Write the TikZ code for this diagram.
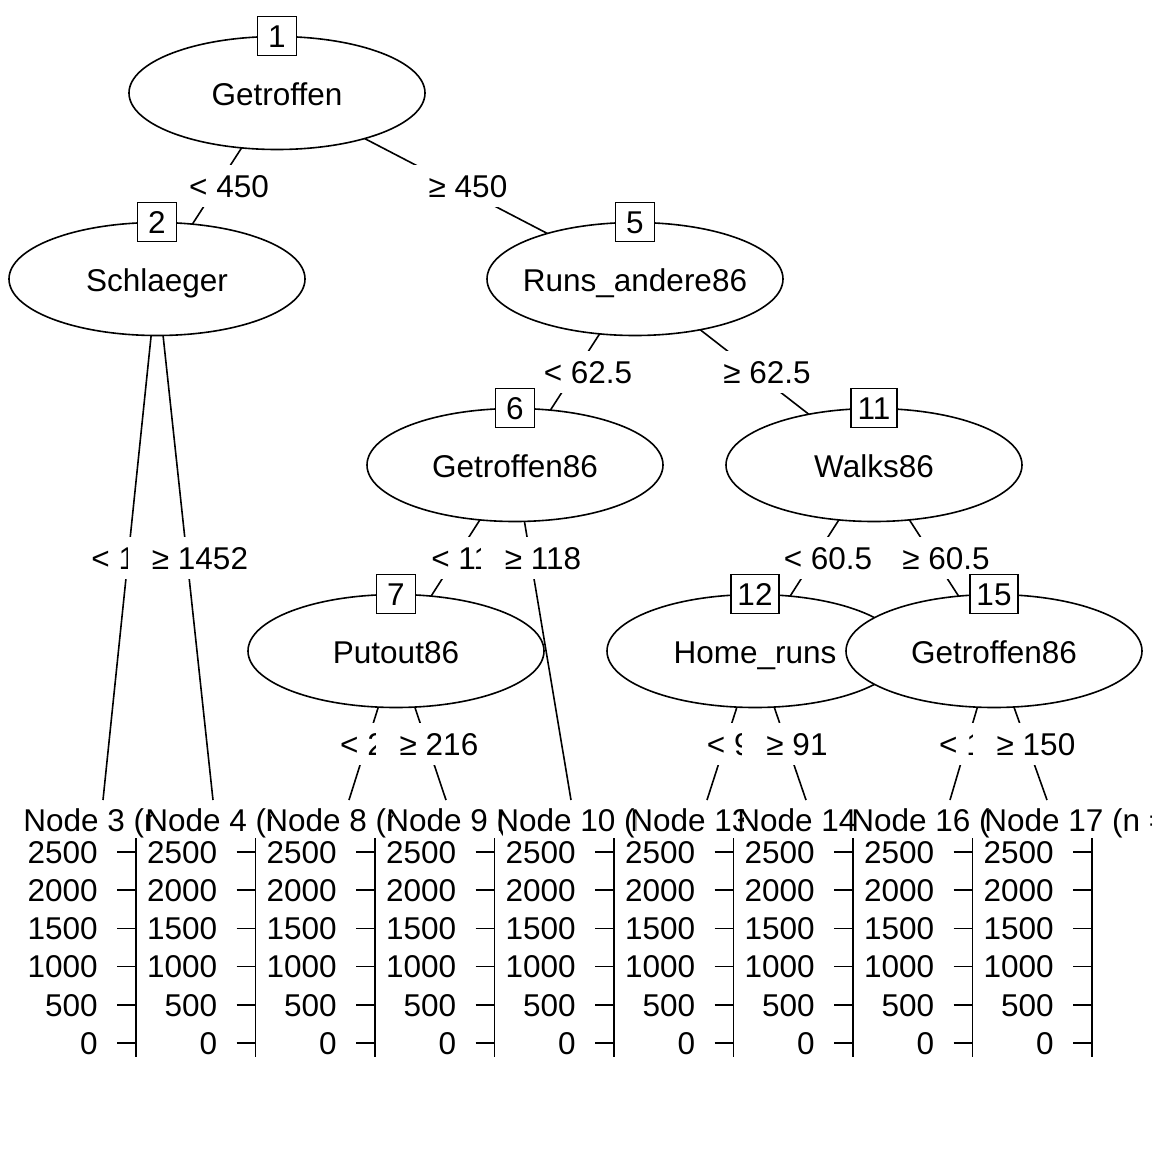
\documentclass[tikz,border=0pt]{standalone}
\usepackage{fontspec}
\setmainfont{Liberation Sans}
\usetikzlibrary{shapes.geometric}
\newcommand{\termpanel}[5]{%
  % #1 id, #2 title box x, #3 clip right x, #4 axis x, #5 title text
  \begin{scope}
    \clip (0,780) rectangle (#3,850);
    \node[ttl] (ttl#1) at (#2,831) {#5};
  \end{scope}
  \draw (#4,838) -- (#4,1057);
  \foreach \v/\yy in {2500/852,2000/890.2,1500/928.4,1000/966.6,500/1004.8,0/1043}{
    \draw ({#4-19},\yy) -- (#4,\yy);
    \node[ticklab] (tl#1-\v) at ({#4-37.5},\yy) {\v};
  }%
}
\begin{document}
\begin{tikzpicture}[x=1pt,y=-1pt,line width=1.6pt,
  font=\fontsize{31.5}{38}\selectfont,
  splitnode/.style={ellipse,draw,fill=white,minimum width=296pt,minimum height=113pt,inner sep=0pt,text height=25pt,text depth=0pt},
  idbox/.style={draw,fill=white,minimum width=39pt,minimum height=39pt,inner xsep=6.5pt,inner ysep=0pt,text height=22.5pt,text depth=0pt},
  elab/.style={fill=white,inner xsep=24pt,inner ysep=0pt,minimum height=42pt,text height=22.5pt,text depth=0pt},
  ttl/.style={inner sep=0pt,anchor=base west},
  ticklab/.style={inner sep=0pt,anchor=east,text height=22.5pt,text depth=0pt}]
\useasboundingbox[fill=white] (0,0) rectangle (1152,1152);

% positions
\coordinate (p1) at (277,93);
\coordinate (p2) at (157,279);
\coordinate (p5) at (635,279);
\coordinate (p6) at (515,465);
\coordinate (p11) at (874,465);
\coordinate (p7) at (396,651);
\coordinate (p12) at (755,651);
\coordinate (p15) at (994,651);
\coordinate (t3) at (103,800);
\coordinate (t4) at (213,800);
\coordinate (t8) at (349,800);
\coordinate (t9) at (446,800);
\coordinate (t10) at (571,800);
\coordinate (t13) at (707,800);
\coordinate (t14) at (806,800);
\coordinate (t16) at (950,800);
\coordinate (t17) at (1047,800);

% connectors
\draw (p1) -- (p2);
\draw (p1) -- (p5);
\draw (p2) -- (t3);
\draw (p2) -- (t4);
\draw (p5) -- (p6);
\draw (p5) -- (p11);
\draw (p6) -- (p7);
\draw (p6) -- (t10);
\draw (p7) -- (t8);
\draw (p7) -- (t9);
\draw (p11) -- (p12);
\draw (p11) -- (p15);
\draw (p12) -- (t13);
\draw (p12) -- (t14);
\draw (p15) -- (t16);
\draw (p15) -- (t17);

% node 1
\node[splitnode] (n1) at (p1) {\makebox[0pt]{Getroffen}};
\node[idbox] (id1) at (277,36) {1};
\node[elab] (e2) at (229,186) {< 450};
% node 2
\node[splitnode] (n2) at (p2) {\makebox[0pt]{Schlaeger}};
\node[idbox] (id2) at (157,222) {2};
\node[elab] (e3) at (140,558) {< 1452};
\termpanel{3}{22.6}{151}{136}{Node 3 (n =}
\node[elab] (e4) at (200,558) {≥ 1452};
\termpanel{4}{144.6}{271}{255.5}{Node 4 (n =}
\node[elab] (e5) at (468,186) {≥ 450};
% node 5
\node[splitnode] (n5) at (p5) {\makebox[0pt]{Runs\_andere86}};
\node[idbox] (id5) at (635,222) {5};
\node[elab] (e6) at (588,372) {< 62.5};
% node 6
\node[splitnode] (n6) at (p6) {\makebox[0pt]{Getroffen86}};
\node[idbox] (id6) at (515,408) {6};
\node[elab] (e7) at (470,558) {< 118};
% node 7
\node[splitnode] (n7) at (p7) {\makebox[0pt]{Putout86}};
\node[idbox] (id7) at (396,594) {7};
\node[elab] (e8) at (380,744) {< 216};
\termpanel{8}{264.6}{392}{375}{Node 8 (n =}
\node[elab] (e9) at (439,744) {≥ 216};
\termpanel{9}{385.6}{502}{494.5}{Node 9 (n =}
\node[elab] (e10) at (543,558) {≥ 118};
\termpanel{10}{495.6}{636}{614}{Node 10 (n =}
\node[elab] (e11) at (767,372) {≥ 62.5};
% node 11
\node[splitnode] (n11) at (p11) {\makebox[0pt]{Walks86}};
\node[idbox] (id11) at (874,408) {11};
\node[elab] (e12) at (828,558) {< 60.5};
% node 12
\node[splitnode] (n12) at (p12) {\makebox[0pt]{Home\_runs}};
\node[idbox] (id12) at (755,594) {12};
\node[elab] (e13) at (738,744) {< 91};
\termpanel{13}{629.6}{743}{733.5}{Node 13 (n =}
\node[elab] (e14) at (797,744) {≥ 91};
\termpanel{14}{736.6}{857}{853}{Node 14 (n =}
\node[elab] (e15) at (946,558) {≥ 60.5};
% node 15
\node[splitnode] (n15) at (p15) {\makebox[0pt]{Getroffen86}};
\node[idbox] (id15) at (994,594) {15};
\node[elab] (e16) at (979,744) {< 150};
\termpanel{16}{850.6}{990}{972.5}{Node 16 (n =}
\node[elab] (e17) at (1036,744) {≥ 150};
\termpanel{17}{983.6}{1152}{1092}{Node 17 (n =}
\end{tikzpicture}
\end{document}
